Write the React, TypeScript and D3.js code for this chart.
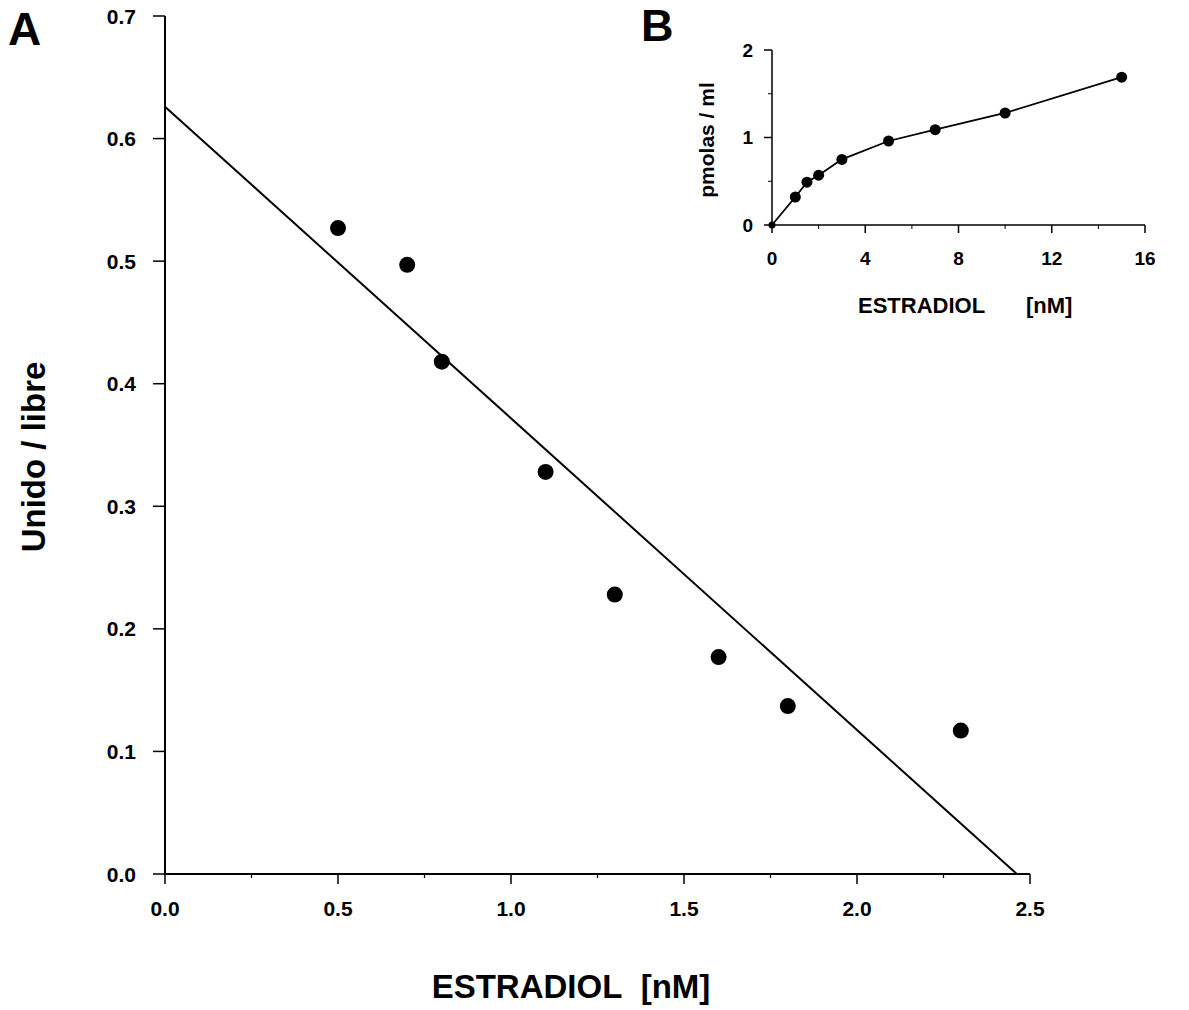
import React from "react";
import * as d3 from "d3";

// main panel A (Scatchard)
const scatX = [0.5, 0.7, 0.8, 1.1, 1.3, 1.6, 1.8, 2.3];
const scatY = [0.527, 0.497, 0.418, 0.328, 0.228, 0.177, 0.137, 0.117];
const fitIntercept = 0.626;
const fitXIntercept = 2.462;
const mainXTicks = [0, 0.5, 1.0, 1.5, 2.0, 2.5];
const mainYTicks = [0, 0.1, 0.2, 0.3, 0.4, 0.5, 0.6, 0.7];

// inset B (saturation)
const satX = [0, 1, 1.5, 2, 3, 5, 7, 10, 15];
const satY = [0, 0.32, 0.49, 0.57, 0.75, 0.96, 1.09, 1.28, 1.69];
const insetXTicks = [0, 4, 8, 12, 16];
const insetYTicks = [0, 1, 2];

const FONT = "'Liberation Sans', Arial, sans-serif";

export default function App() {
  const x = d3.scaleLinear().domain([0, 2.5]).range([165, 1030]);
  const y = d3.scaleLinear().domain([0, 0.7]).range([874, 16]);

  const xi = d3.scaleLinear().domain([0, 16]).range([772, 1145]);
  const yi = d3.scaleLinear().domain([0, 2]).range([225, 50]);

  const fmt = d3.format(".1f");
  const fitLine = d3.line<[number, number]>()
    .x((d) => x(d[0]))
    .y((d) => y(d[1]));
  const satLine = d3.line<number>()
    .x((d, i) => xi(satX[i]))
    .y((d) => yi(d));

  const minorX = d3.range(0.25, 2.5, 0.5);
  const minorXi = d3.range(2, 16, 4);
  const minorYi = [0.5, 1.5];

  return (
    <svg width={1189} height={1010} style={{ display: "block", position: "absolute", left: 0, top: 0, background: "#fff" }} fontFamily={FONT} fontWeight="bold">
      <text x={8} y={45} fontSize={46}>A</text>

      {/* main axes */}
      <line x1={x(0)} x2={x(0)} y1={y(0)} y2={y(0.7)} stroke="#000" strokeWidth={2} />
      <line x1={x(0)} x2={x(2.5)} y1={y(0)} y2={y(0)} stroke="#000" strokeWidth={2} />
      {mainYTicks.map((t) => (
        <g key={"my" + t}>
          <line x1={x(0) - 12} x2={x(0)} y1={y(t)} y2={y(t)} stroke="#000" strokeWidth={1.5} />
          <text x={x(0) - 29} y={y(t)} dy="0.36em" textAnchor="end" fontSize={21}>{fmt(t)}</text>
        </g>
      ))}
      {mainXTicks.map((t) => (
        <g key={"mx" + t}>
          <line x1={x(t)} x2={x(t)} y1={y(0)} y2={y(0) + 10} stroke="#000" strokeWidth={1.5} />
          <text x={x(t)} y={y(0) + 42} textAnchor="middle" fontSize={21}>{fmt(t)}</text>
        </g>
      ))}
      {minorX.map((t) => (
        <line key={"mnx" + t} x1={x(t)} x2={x(t)} y1={y(0)} y2={y(0) + 4} stroke="#000" strokeWidth={1.2} />
      ))}

      <path d={fitLine([[0, fitIntercept], [fitXIntercept, 0]]) || ""} fill="none" stroke="#000" strokeWidth={2} />
      {scatX.map((v, i) => (
        <circle key={"p" + i} cx={x(v)} cy={y(scatY[i])} r={8} fill="#000" />
      ))}

      <text x={571} y={998} textAnchor="middle" fontSize={33}>ESTRADIOL{"\u00a0\u00a0"}[nM]</text>
      <text transform="translate(45,457) rotate(-90)" textAnchor="middle" fontSize={33}>Unido / libre</text>

      {/* inset B */}
      <text x={641} y={41} fontSize={45}>B</text>
      <line x1={xi(0)} x2={xi(0)} y1={yi(0)} y2={yi(2)} stroke="#000" strokeWidth={1.5} />
      <line x1={xi(0)} x2={xi(16)} y1={yi(0)} y2={yi(0)} stroke="#000" strokeWidth={1.5} />
      {insetYTicks.map((t) => (
        <g key={"iy" + t}>
          <line x1={xi(0) - 8} x2={xi(0)} y1={yi(t)} y2={yi(t)} stroke="#000" strokeWidth={1.5} />
          <text x={xi(0) - 19} y={yi(t)} dy="0.36em" textAnchor="end" fontSize={19}>{t}</text>
        </g>
      ))}
      {minorYi.map((t) => (
        <line key={"mny" + t} x1={xi(0) - 4} x2={xi(0)} y1={yi(t)} y2={yi(t)} stroke="#000" strokeWidth={1} />
      ))}
      {insetXTicks.map((t) => (
        <g key={"ix" + t}>
          <line x1={xi(t)} x2={xi(t)} y1={yi(0)} y2={yi(0) + 8} stroke="#000" strokeWidth={1.5} />
          <text x={xi(t)} y={yi(0) + 40} textAnchor="middle" fontSize={19}>{t}</text>
        </g>
      ))}
      {minorXi.map((t) => (
        <line key={"mnxi" + t} x1={xi(t)} x2={xi(t)} y1={yi(0)} y2={yi(0) + 4} stroke="#000" strokeWidth={1} />
      ))}
      <path d={satLine(satY) || ""} fill="none" stroke="#000" strokeWidth={1.8} />
      {satX.map((v, i) => (
        <circle key={"s" + i} cx={xi(v)} cy={yi(satY[i])} r={i === 0 ? 3.5 : 5.5} fill="#000" />
      ))}
      <text x={858} y={313} fontSize={22}>
        ESTRADIOL
        <tspan x={1026}>[nM]</tspan>
      </text>
      <text transform="translate(714,140) rotate(-90)" textAnchor="middle" fontSize={21}>pmolas / ml</text>
    </svg>
  );
}
